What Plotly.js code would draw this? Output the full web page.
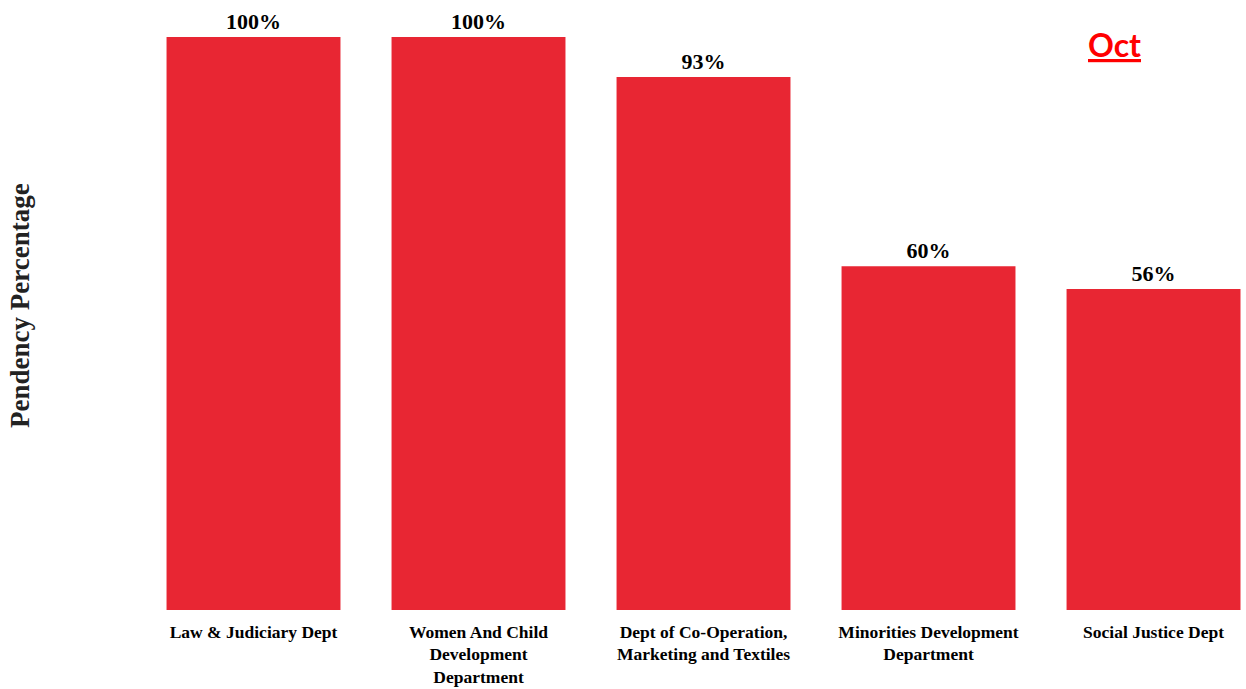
<!DOCTYPE html>
<html>
<head>
<meta charset="utf-8">
<script src="https://cdn.plot.ly/plotly-3.0.1.min.js"></script>
<style>html,body{margin:0;padding:0;background:#fff;}#chart{width:1246px;height:689px;}</style>
</head>
<body>
<div id="chart"></div>
<script>
const categories = [
  "Law & Judiciary Dept",
  "Women And Child<br>Development<br>Department",
  "Dept of Co-Operation,<br>Marketing and Textiles",
  "Minorities Development<br>Department",
  "Social Justice Dept"
];
const pendency = [100, 100, 93, 60, 56];
const monthLabel = "Oct";
const yTitle = "Pendency Percentage";

const L = 141, T = 37, B = 79;
const W = 1246, H = 689;
const plotW = W - L;
const plotH = H - T - B;

const trace = {
  type: 'bar',
  x: categories,
  y: pendency,
  marker: {color: '#E82633'},
  text: pendency.map(v => v + '%'),
  textposition: 'outside',
  cliponaxis: false,
  textfont: {family: 'Liberation Serif', size: 22, color: '#000', weight: 'bold'},
  hoverinfo: 'skip'
};

const layout = {
  width: W, height: H,
  margin: {l: L, r: 0, t: T, b: B, pad: 0},
  paper_bgcolor: '#fff', plot_bgcolor: '#fff',
  bargap: 0.227,
  showlegend: false,
  xaxis: {
    range: [-0.5, 4.411],
    showgrid: false, zeroline: false, showline: false,
    ticks: '', ticklen: 0,
    tickangle: 0,
    ticklabelstandoff: 9,
    tickfont: {family: 'Liberation Serif', size: 17.5, color: '#000', weight: 'bold'}
  },
  yaxis: {
    range: [0, 100],
    showgrid: false, zeroline: false, showline: false,
    showticklabels: false, ticks: ''
  },
  annotations: [
    {
      text: '<b>' + yTitle + '</b>',
      xref: 'paper', yref: 'paper',
      x: (20 - L) / plotW, y: (H - B - 306) / plotH,
      xanchor: 'center', yanchor: 'middle',
      textangle: -90, showarrow: false,
      font: {family: 'Liberation Serif', size: 27, color: '#222'}
    },
    {
      text: '<b><u>' + monthLabel + '</u></b>',
      xref: 'paper', yref: 'paper',
      x: (1114 - L) / plotW, y: (H - B - 45) / plotH,
      xanchor: 'center', yanchor: 'middle',
      showarrow: false,
      font: {family: 'Lato', size: 32, color: '#FF0000'}
    }
  ]
};

Plotly.newPlot('chart', [trace], layout, {displayModeBar: false, staticPlot: true});
</script>
</body>
</html>
